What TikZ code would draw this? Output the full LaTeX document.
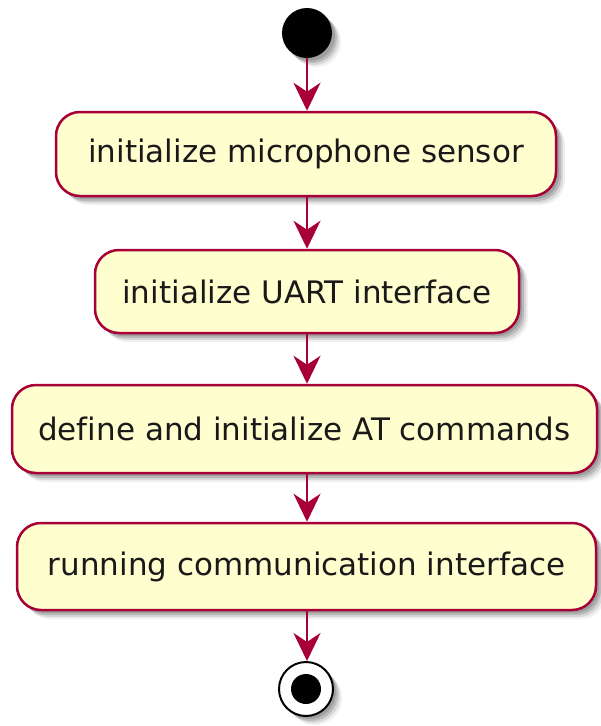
\documentclass[tikz,border=0pt]{standalone}
\usepackage{fontspec}
\setmainfont[Ligatures={NoCommon}]{DejaVu Sans}
\usetikzlibrary{arrows.meta,shadows}
\definecolor{actfill}{HTML}{FEFECE}
\definecolor{actline}{HTML}{A80036}
\tikzset{
  x=1pt, y=-1pt,
  softshadow/.style={
    general shadow={fill=black, opacity=.14, shadow xshift=3pt, shadow yshift=-3pt},
    general shadow={fill=black, opacity=.14, shadow xshift=5pt, shadow yshift=-5pt},
    general shadow={fill=black, opacity=.10, shadow xshift=7pt, shadow yshift=-7pt},
    general shadow={fill=black, opacity=.06, shadow xshift=9pt, shadow yshift=-9pt}},
  action/.style={rectangle, rounded corners=24pt, draw=actline, line width=2.5pt,
    fill=actfill, softshadow, font=\fontsize{31}{36}\selectfont, text=black!90,
    inner sep=0pt},
  flow/.style={draw=actline, line width=2.5pt,
    -{Stealth[length=28pt, width=27pt, inset=9pt]}},
  startdot/.style={circle, fill=black, minimum size=50pt, inner sep=0pt, softshadow},
  stopring/.style={circle, draw=black, line width=2pt, fill=white,
    minimum size=54pt, inner sep=0pt, softshadow},
  stopdot/.style={circle, fill=black, minimum size=30pt, inner sep=0pt}
}
\begin{document}
\begin{tikzpicture}
\useasboundingbox (0,0) rectangle (601,726);

\node[startdot] (start) at (307,33) {};
\node[action, minimum width=500pt, minimum height=84pt] (mic) at (306,154) {initialize microphone sensor};
\node[action, minimum width=424pt, minimum height=83pt] (uart) at (307,291.5) {initialize UART interface};
\node[action, minimum width=585pt, minimum height=88pt] (atcmd) at (304.5,429) {define and initialize AT commands};
\node[action, minimum width=579pt, minimum height=87pt] (run) at (306.5,566.5) {running communication interface};
\node[stopring] (stop) at (306,689) {};
\node[stopdot] (stopc) at (stop) {};

\draw[flow] (start.south) -- (mic.north -| start);
\draw[flow] (mic.south -| start) -- (uart.north -| start);
\draw[flow] (uart.south -| start) -- (atcmd.north -| start);
\draw[flow] (atcmd.south -| start) -- (run.north -| start);
\draw[flow] (run.south -| start) -- (stop.north -| start);
\end{tikzpicture}
\end{document}
